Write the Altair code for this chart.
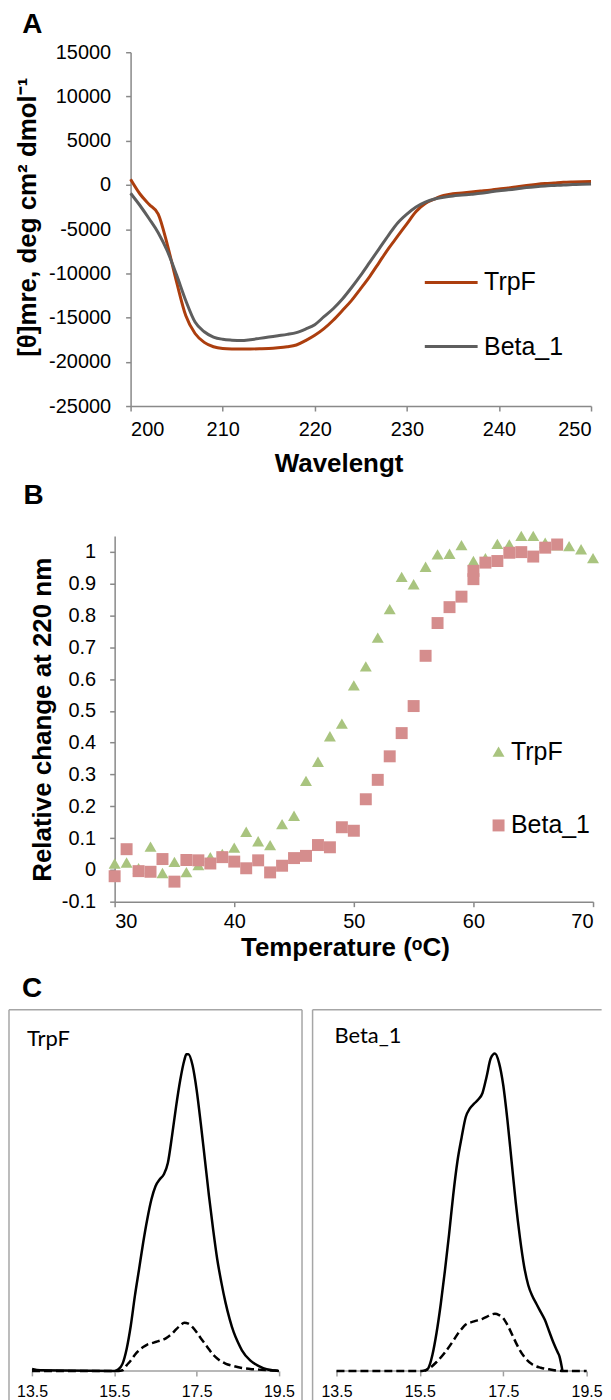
import altair as alt
import pandas as pd

FONT = "Liberation Sans"
AX = "#898989"

# ---------------- Panel A : CD spectra ----------------
wl = list(range(200, 251))
cd_trpf = [640, -1000, -2200, -3300, -6800, -11000, -14800, -16800, -17800, -18300,
           -18500, -18550, -18560, -18550, -18530, -18500, -18420, -18300, -18100, -17600,
           -17000, -16250, -15300, -14200, -13050, -11700, -10300, -8750, -7200, -5800,
           -4400, -3000, -2100, -1600, -1200, -1000, -900, -800, -700, -600,
           -450, -350, -200, -70, 50, 150, 220, 290, 330, 360, 375]
cd_beta = [-940, -2300, -3800, -5400, -7500, -10200, -13100, -15500, -16600, -17200,
           -17450, -17550, -17600, -17500, -17350, -17200, -17050, -16900, -16700, -16300,
           -15800, -14900, -14000, -12900, -11600, -10200, -8700, -7200, -5700, -4300,
           -3300, -2500, -1950, -1600, -1400, -1250, -1150, -1050, -950, -800,
           -650, -550, -430, -300, -200, -120, -60, 0, 40, 80, 110]
a_xticks = [200, 210, 220, 230, 240, 250]
a_yticks = [-25000, -20000, -15000, -10000, -5000, 0, 5000, 10000, 15000]

# ---------------- Panel B : thermal melt ----------------
temps_trpf = list(range(30, 71))
melt_trpf = [0.02, 0.023, 0.005, 0.073, -0.01, 0.025, -0.007, 0.015, 0.04, 0.05, 0.07,
             0.12, 0.09, 0.078, 0.144, 0.17, 0.28, 0.34, 0.42, 0.46, 0.58,
             0.64, 0.73, 0.82, 0.921, 0.898, 0.953, 0.992, 0.994, 1.021, 0.971,
             0.98, 1.025, 1.023, 1.05, 1.05, 1.029, 1.02, 1.018, 1.008, 0.98]
temps_beta = list(range(30, 61)) + [60] + list(range(61, 68))
melt_beta = [-0.02, 0.065, -0.004, -0.006, 0.034, -0.037, 0.031, 0.03, 0.02, 0.04, 0.026,
             0.005, 0.03, -0.008, 0.013, 0.037, 0.044, 0.078, 0.071, 0.134, 0.123,
             0.222, 0.283, 0.357, 0.43, 0.515, 0.673, 0.776, 0.826, 0.859, 0.914, 0.94,
             0.966, 0.971, 0.997, 0.999, 0.985, 1.013, 1.023]
b_xticks = [30, 40, 50, 60, 70]
b_yticks = [-0.1, 0, 0.1, 0.2, 0.3, 0.4, 0.5, 0.6, 0.7, 0.8, 0.9, 1]

# ---------------- Panel C : SEC profiles ----------------
c_ticks = [13.5, 15.5, 17.5, 19.5]
trpf_solid_x = [13.5, 13.7, 15.5, 15.6, 15.7, 15.8, 15.9, 16.0, 16.1, 16.2, 16.3, 16.4, 16.5,
                16.6, 16.7, 16.8, 16.9, 17.0, 17.1, 17.2, 17.25, 17.3, 17.4, 17.5, 17.6, 17.7,
                17.8, 17.9, 18.0, 18.1, 18.2, 18.3, 18.4, 18.5, 18.6, 18.8, 19.0, 19.2, 19.4, 19.5]
trpf_solid_y = [0.006, 0.002, 0.0, 0.005, 0.023, 0.07, 0.143, 0.237, 0.32, 0.404, 0.478, 0.54,
                0.582, 0.603, 0.619, 0.655, 0.739, 0.833, 0.916, 0.979, 0.998, 0.998, 0.963,
                0.885, 0.78, 0.666, 0.551, 0.446, 0.352, 0.279, 0.216, 0.164, 0.122, 0.091,
                0.065, 0.033, 0.016, 0.005, 0.001, 0.0]
trpf_dash_x = [13.5, 15.6, 15.7, 15.8, 15.9, 16.0, 16.1, 16.2, 16.3, 16.4, 16.5, 16.6, 16.7,
               16.8, 16.9, 17.0, 17.1, 17.2, 17.3, 17.4, 17.5, 17.6, 17.7, 17.8, 17.9, 18.0,
               18.2, 18.4, 18.6, 18.8, 19.0, 19.4, 19.5]
trpf_dash_y = [0.0, 0.0, 0.002, 0.018, 0.033, 0.051, 0.065, 0.075, 0.083, 0.087, 0.091, 0.095,
               0.099, 0.107, 0.117, 0.131, 0.143, 0.152, 0.149, 0.138, 0.122, 0.103, 0.086,
               0.068, 0.051, 0.039, 0.023, 0.015, 0.009, 0.006, 0.004, 0.001, 0.0]
beta_solid_x = [15.62, 15.7, 15.8, 15.9, 16.0, 16.1, 16.2, 16.3, 16.4, 16.5, 16.6, 16.7, 16.8,
                16.9, 17.0, 17.1, 17.2, 17.3, 17.4, 17.5, 17.6, 17.7, 17.8, 17.9, 18.0, 18.1,
                18.2, 18.3, 18.4, 18.5, 18.6, 18.7, 18.8, 18.85, 18.92]
beta_solid_y = [0.0, 0.008, 0.05, 0.12, 0.21, 0.315, 0.43, 0.555, 0.66, 0.735, 0.80, 0.827,
                0.842, 0.855, 0.875, 0.927, 0.985, 1.0, 0.97, 0.90, 0.79, 0.66, 0.53, 0.42,
                0.33, 0.27, 0.235, 0.21, 0.185, 0.16, 0.125, 0.09, 0.06, 0.045, 0.0]
beta_dash_x = [13.5, 15.55, 15.7, 15.9, 16.1, 16.3, 16.4, 16.5, 16.6, 16.8, 17.0, 17.1, 17.2,
               17.3, 17.4, 17.5, 17.6, 17.7, 17.8, 17.9, 18.0, 18.2, 18.4, 18.6, 18.9, 19.5]
beta_dash_y = [0.0, 0.0, 0.006, 0.028, 0.058, 0.095, 0.115, 0.132, 0.146, 0.156, 0.164, 0.170,
               0.177, 0.18, 0.176, 0.166, 0.145, 0.118, 0.09, 0.065, 0.045, 0.02, 0.01, 0.005,
               0.0, 0.0]

series = ["TrpF", "Beta_1"]


def ax(**kw):
    base = dict(domainColor=AX, domainWidth=1.5, tickColor=AX, tickWidth=1.5, tickSize=5,
                labelFont=FONT, labelFontSize=20, labelColor="black", grid=False,
                titleFont=FONT, titleFontSize=26, titleFontWeight="bold", titleColor="black",
                titleAlign="center", titleBaseline="alphabetic")
    base.update(kw)
    return alt.Axis(**base)


def letter(t, x, y):
    return alt.Chart(pd.DataFrame({"t": [t]})).mark_text(
        font=FONT, fontSize=28, fontWeight="bold", align="left", baseline="alphabetic",
        color="black").encode(x=alt.value(x), y=alt.value(y), text="t:N")


def spacer(w):
    return alt.Chart(pd.DataFrame({"v": [0]})).mark_point(opacity=0).encode(
        x=alt.X("v:Q", axis=None), y=alt.Y("v:Q", axis=None)).properties(
        width=w, height=1,
        view=alt.ViewBackground(fill="#ffffff", fillOpacity=0, strokeOpacity=0))


# ----- A -----
dfA = pd.DataFrame({"wavelength": wl * 2, "mre": cd_trpf + cd_beta,
                    "series": ["TrpF"] * len(wl) + ["Beta_1"] * len(wl)})
lineA = alt.Chart(dfA).mark_line(strokeWidth=3, interpolate="monotone").encode(
    x=alt.X("wavelength:Q", scale=alt.Scale(domain=[200, 250], nice=False, zero=False),
            axis=ax(values=a_xticks, labelPadding=9, title="Wavelengt", titleX=208.7,
                    titleY=66, titleAngle=0)),
    y=alt.Y("mre:Q", scale=alt.Scale(domain=[-25000, 15000], nice=False, zero=False),
            axis=ax(values=a_yticks, labelPadding=15, labelExpr="'' + datum.value",
                    title="[θ]mre, deg cm² dmol⁻¹", titleX=-95.5, titleY=165,
                    titleAngle=270)),
    color=alt.Color("series:N", scale=alt.Scale(domain=series, range=["#AC3E0E", "#5E5E5E"]),
                    legend=alt.Legend(orient="none", legendX=293.7, legendY=203, title=None,
                                      direction="vertical", padding=0, labelFont=FONT,
                                      labelFontSize=25, labelColor="black",
                                      symbolType="stroke", symbolSize=2809,
                                      symbolStrokeWidth=3, rowPadding=23.3, labelOffset=5)),
    order=alt.Order("ord:Q"),
).transform_calculate(ord="datum.series == 'TrpF' ? 0 : 1")
chartA = alt.layer(lineA, letter("A", -108.6, -19.7)).properties(width=462, height=355)

# ----- B -----
dfB = pd.DataFrame({"temp": temps_trpf + temps_beta, "rel": melt_trpf + melt_beta,
                    "series": ["TrpF"] * len(temps_trpf) + ["Beta_1"] * len(temps_beta)})
ptsB = alt.Chart(dfB).mark_point(filled=True, opacity=1, size=144).encode(
    x=alt.X("temp:Q", scale=alt.Scale(domain=[30, 70], nice=False, zero=False),
            axis=ax(values=b_xticks, labelPadding=5, title="Temperature (ᵒC)", titleX=231,
                    titleY=54, titleAngle=0)),
    y=alt.Y("rel:Q", scale=alt.Scale(domain=[-0.1, 1.05], nice=False, zero=False),
            axis=ax(values=b_yticks, labelPadding=14, labelExpr="'' + datum.value",
                    title="Relative change at 220 nm", titleX=-64, titleY=184,
                    titleAngle=270)),
    color=alt.Color("series:N", scale=alt.Scale(domain=series, range=["#A9C47F", "#D58D8D"]),
                    legend=alt.Legend(orient="none", legendX=372.7, legendY=204, title=None,
                                      direction="vertical", padding=0, labelFont=FONT,
                                      labelFontSize=25, labelColor="black", symbolSize=144,
                                      rowPadding=48, labelOffset=0)),
    shape=alt.Shape("series:N", scale=alt.Scale(domain=series, range=["triangle-up", "square"]),
                    legend=None),
)
chartB = alt.layer(ptsB, letter("B", -91.4, -31.7)).properties(width=480, height=367)

# ----- C -----
C_H = 410
C_YDOM = [-0.1495, 1.1382]
C_OFF = -47.6
FRAME = "#A6A6A6"


def sec_panel(name, sx, sy, dx, dy, xdom, width, lab_x, lab_y, with_letter, right_edge):
    xs = alt.Scale(domain=xdom, nice=False, zero=False)
    ys = alt.Scale(domain=C_YDOM, nice=False, zero=False)
    xaxis = alt.Axis(values=c_ticks, labelExpr="format(datum.value, '.1f')", offset=C_OFF,
                     domain=False, tickColor="#A0A0A0", tickWidth=1.5, tickSize=5,
                     labelFont=FONT, labelFontSize=16, labelColor="black", labelPadding=8,
                     grid=False, title=None)
    base_df = pd.DataFrame({"x": [c_ticks[0]], "x2": [c_ticks[-1]], "y": [0]})
    rule = alt.Chart(base_df).mark_rule(color="#A0A0A0", strokeWidth=1.5).encode(
        x=alt.X("x:Q", scale=xs, axis=xaxis), x2="x2:Q",
        y=alt.Y("y:Q", scale=ys, axis=None))
    dash = alt.Chart(pd.DataFrame({"x": dx, "y": dy})).mark_line(
        color="black", strokeWidth=2.5, strokeDash=[8, 4], interpolate="monotone").encode(
        x=alt.X("x:Q", scale=xs), y=alt.Y("y:Q", scale=ys))
    solid = alt.Chart(pd.DataFrame({"x": sx, "y": sy})).mark_line(
        color="black", strokeWidth=2.5, interpolate="monotone").encode(
        x=alt.X("x:Q", scale=xs), y=alt.Y("y:Q", scale=ys))
    label = alt.Chart(pd.DataFrame({"t": [name]})).mark_text(
        font="Lato", fontSize=22, align="left", baseline="alphabetic", color="black").encode(
        x=alt.value(lab_x), y=alt.value(lab_y), text="t:N")
    one = pd.DataFrame({"k": [0]})
    frame_top = alt.Chart(one).mark_rule(color=FRAME, strokeWidth=1.5).encode(
        x=alt.value(0), x2=alt.value(width), y=alt.value(0))
    frame_left = alt.Chart(one).mark_rule(color=FRAME, strokeWidth=1.5).encode(
        x=alt.value(0), y=alt.value(0), y2=alt.value(C_H))
    layers = [rule, frame_top, frame_left]
    if right_edge:
        layers.append(alt.Chart(one).mark_rule(color=FRAME, strokeWidth=1.5).encode(
            x=alt.value(width), y=alt.value(0), y2=alt.value(C_H)))
    layers += [dash, solid, label]
    if with_letter:
        layers.append(letter("C", 13.1, -12.6))
    return alt.layer(*layers).properties(width=width, height=C_H)


c1 = sec_panel("TrpF", trpf_solid_x, trpf_solid_y, trpf_dash_x, trpf_dash_y,
               [12.94, 20.06], 294, 18, 36, True, True)
c2 = sec_panel("Beta_1", beta_solid_x, beta_solid_y, beta_dash_x, beta_dash_y,
               [12.926, 19.859], 290, 22, 33, False, False)

res = dict(x="independent", y="independent", color="independent", shape="independent")
rowA = alt.hconcat(spacer(121.4), chartA, spacing=0, bounds="flush").resolve_scale(**res)
rowB = alt.hconcat(spacer(105.4), chartB, spacing=0, bounds="flush").resolve_scale(**res)
rowC = alt.hconcat(c1, c2, spacing=10.6, bounds="flush").resolve_scale(**res)

top = alt.vconcat(rowA, rowB, spacing=5.3).resolve_scale(**res)
chart = alt.vconcat(top, rowC, spacing=13.7).resolve_scale(**res).properties(
    padding={"left": 0, "top": 0, "right": 0, "bottom": 0}
).configure_view(stroke=None).resolve_legend(color="independent", shape="independent")

chart.save("out.html", embed_options={"renderer": "svg", "actions": False})
